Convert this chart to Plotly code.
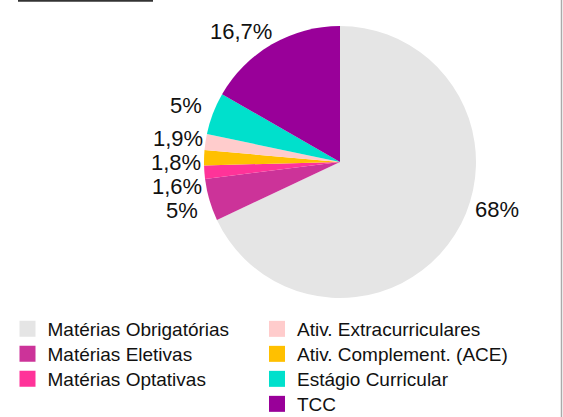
import math
import plotly.graph_objects as go

labels = ["Matérias Obrigatórias", "Matérias Eletivas", "Matérias Optativas",
          "Ativ. Complement. (ACE)", "Ativ. Extracurriculares",
          "Estágio Curricular", "TCC"]
values = [68, 5, 1.6, 1.8, 1.9, 5, 16.7]
colors = ["#e5e5e5", "#cc3399", "#ff3399", "#ffc000", "#ffcccc", "#00e0cc", "#990099"]

legend_col1 = ["Matérias Obrigatórias", "Matérias Eletivas", "Matérias Optativas"]
legend_col2 = ["Ativ. Extracurriculares", "Ativ. Complement. (ACE)",
               "Estágio Curricular", "TCC"]

W, H = 563, 417
cx, cy, r = 340, 162, 136
FONT = "Liberation Sans, Arial, Helvetica, sans-serif"

fig = go.Figure()
fig.add_trace(go.Pie(
    labels=labels, values=values, sort=False, direction="clockwise",
    rotation=0, marker=dict(colors=colors, line=dict(width=0)),
    textinfo="none", showlegend=False, hoverinfo="label+percent",
    domain=dict(x=[(cx - r) / W, (cx + r) / W], y=[1 - (cy + r) / H, 1 - (cy - r) / H]),
))

# percentage labels placed outside the pie, around a circle, stacked to avoid overlap
total = sum(values)
R_lab = r * 1.205
gap = 24
pos = []
cum = 0.0
for v in values:
    p = v / total
    mid = (cum + p / 2) * 360
    cum += p
    h = 90 if mid < 180 else 270
    ang = math.radians(h + (mid - h) * (1 - 0.7 * p))
    pos.append([cx + R_lab * math.sin(ang), cy - R_lab * math.cos(ang), mid < 180])
for side in (True, False):
    idx = sorted([i for i, q in enumerate(pos) if q[2] == side], key=lambda i: pos[i][1])
    for a, b in zip(idx, idx[1:]):
        if pos[b][1] < pos[a][1] + gap:
            pos[b][1] = pos[a][1] + gap

annotations = []
for v, (x, y, _) in zip(values, pos):
    txt = f"{v / total * 100:.3g}".replace(".", ",") + "%"
    annotations.append(dict(x=x / W, y=1 - y / H, xref="paper", yref="paper",
                            text=txt, showarrow=False, xanchor="center", yanchor="middle",
                            font=dict(family=FONT, size=22, color="#111")))

# legend: two columns, one single-item legend per entry
cmap = dict(zip(labels, colors))
legend_layout = {}
row_y0, row_dy = 329, 25
k = 0
for col_x, names in ((7.5, legend_col1), (257, legend_col2)):
    for j, name in enumerate(names):
        k += 1
        lname = "legend" if k == 1 else f"legend{k}"
        fig.add_trace(go.Scatter(x=[None], y=[None], mode="markers", name=name,
                                 marker=dict(symbol="square", size=16, color=cmap[name]),
                                 legend=lname))
        legend_layout[lname] = dict(
            x=col_x / W, y=1 - (row_y0 + j * row_dy) / H,
            xanchor="left", yanchor="middle",
            font=dict(family=FONT, size=19, color="#111"),
            bgcolor="rgba(0,0,0,0)", itemsizing="trace", itemwidth=30,
            borderwidth=0)

fig.update_layout(
    width=W, height=H, margin=dict(l=0, r=0, t=0, b=0, autoexpand=False),
    paper_bgcolor="white", plot_bgcolor="white",
    separators=",.",
    xaxis=dict(visible=False), yaxis=dict(visible=False),
    annotations=annotations,
    shapes=[
        dict(type="line", xref="paper", yref="paper", x0=18 / W, x1=153 / W,
             y0=1 - 0.8 / H, y1=1 - 0.8 / H, line=dict(color="#333", width=2)),
        dict(type="line", xref="paper", yref="paper", x0=1 - 1.5 / W, x1=1 - 1.5 / W,
             y0=0, y1=1, line=dict(color="#aaa", width=1.5)),
    ],
    **legend_layout,
)
fig.write_html("out.html", config={"displayModeBar": False},
               post_script="document.body.style.margin='0px';")
